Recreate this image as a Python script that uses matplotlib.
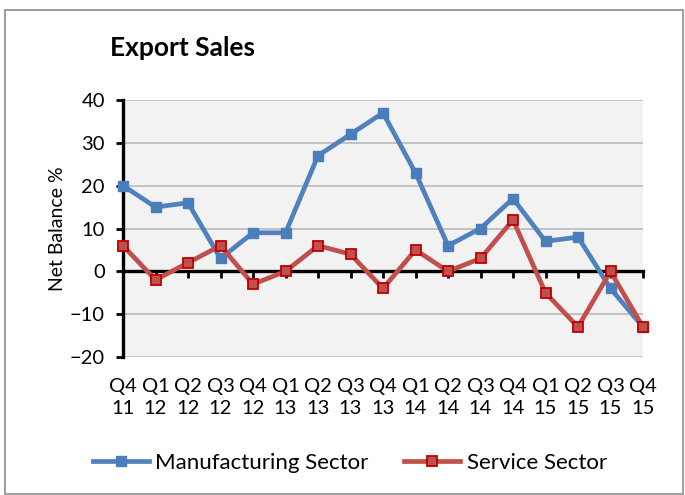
import matplotlib.pyplot as plt
from matplotlib.patches import Rectangle

plt.rcParams['font.family'] = ['Lato', 'DejaVu Sans']

quarters = ["Q4\n11", "Q1\n12", "Q2\n12", "Q3\n12", "Q4\n12", "Q1\n13", "Q2\n13", "Q3\n13", "Q4\n13",
            "Q1\n14", "Q2\n14", "Q3\n14", "Q4\n14", "Q1\n15", "Q2\n15", "Q3\n15", "Q4\n15"]
manufacturing = [20, 15, 16, 3, 9, 9, 27, 32, 37, 23, 6, 10, 17, 7, 8, -4, -13]
service = [6, -2, 2, 6, -3, 0, 6, 4, -4, 5, 0, 3, 12, -5, -13, 0, -13]
y_ticks = [-20, -10, 0, 10, 20, 30, 40]

blue = "#4F81BD"
red = "#C0504D"

fig = plt.figure(figsize=(6.85, 4.95), dpi=100)
# chart border
fig.patches.append(Rectangle((5 / 685, 1 - 494 / 495), 678 / 685, 484 / 495,
                             transform=fig.transFigure, fill=False,
                             edgecolor="#8C8C8C", linewidth=1.2))

ax = fig.add_axes([123 / 685, 1 - 357 / 495, 520 / 685, 257 / 495])
ax.set_facecolor("#F2F2F2")

x = list(range(len(quarters)))
ax.plot(x, manufacturing, color=blue, linewidth=3.4, marker="s", markersize=7,
        markerfacecolor="#4A7EBB", markeredgecolor="#4A7EBB", label="Manufacturing Sector",
        zorder=4, clip_on=False)
ax.plot(x, service, color=red, linewidth=3.4, marker="s", markersize=7,
        markerfacecolor=red, markeredgecolor="#C00000", markeredgewidth=1.3,
        label="Service Sector", zorder=5, clip_on=False)

ax.set_xlim(0, len(quarters) - 1)
ax.set_ylim(-20, 40)
ax.set_yticks(y_ticks)
ax.yaxis.grid(True, color="#BFBFBF", linewidth=1.3)
ax.set_axisbelow(True)

for s in ["top", "right"]:
    ax.spines[s].set_visible(False)
ax.spines["left"].set_linewidth(2.4)
ax.spines["bottom"].set_position(("data", 0))
ax.spines["bottom"].set_linewidth(2.4)
ax.spines["bottom"].set_zorder(3)

ax.set_xticks(x)
ax.tick_params(axis="x", direction="out", length=5, width=2, labelbottom=False)
ax.tick_params(axis="y", direction="out", length=5, width=2, labelsize=14.5, pad=8)

sec = ax.secondary_xaxis("bottom")
sec.set_xticks(x)
sec.set_xticklabels(quarters, fontsize=14.5, linespacing=1.35)
sec.tick_params(length=0, pad=15)
sec.spines["bottom"].set_visible(False)

ax.set_ylabel("Net Balance %", fontsize=14, labelpad=3)

fig.text(110 / 685, 1 - 56 / 495, "Export Sales", fontsize=19, fontweight="bold")

ax.legend(loc="center", bbox_to_anchor=(350 / 685, 1 - 463 / 495), bbox_transform=fig.transFigure,
          ncol=2, frameon=False, fontsize=16, handlelength=2.5, handletextpad=0.3,
          columnspacing=1.6)

fig.savefig("out.png", dpi=100)
